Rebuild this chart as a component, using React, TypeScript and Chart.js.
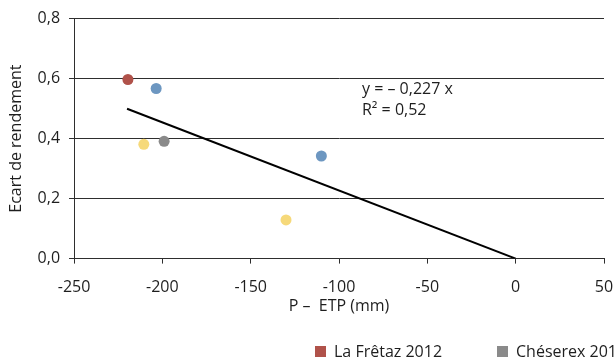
import React, { useEffect, useRef } from "react";
import { Chart, registerables } from "chart.js";

Chart.register(...registerables);

// ---- Data ----
const seriesNames = ["La Frêtaz 2012", "Chéserex 2012", "Série 3", "Série 4"];
const seriesColors = ["#B0524A", "#8A8A8A", "#6D97C1", "#F6D97A"];
const redX = [-219.5];
const redY = [0.597];
const grayX = [-199];
const grayY = [0.391];
const blueX = [-203.5, -110];
const blueY = [0.567, 0.342];
const yellowX = [-210.5, -130];
const yellowY = [0.381, 0.129];
const trendX = [-220, 0];
const trendY = [0.4994, 0];
const annotationLines = ["y = – 0,227 x", "R² = 0,52"];
const annotationX = -87;
const annotationY = [0.564, 0.495];
const xTicks = [-250, -200, -150, -100, -50, 0, 50];
const xTickLabels = ["-250", "-200", "-150", "-100", "-50", "0", "50"];
const yTicks = [0, 0.2, 0.4, 0.6, 0.8];
const yTickLabels = ["0,0", "0,2", "0,4", "0,6", "0,8"];
const xTitle = "P –  ETP (mm)";
const yTitle = "Ecart de rendement";
const legendCount = 2;

const FONT = "'Open Sans', 'Noto Sans', sans-serif";
const TEXT = "#1e1e1e";
const GRID = "#2e2e2e";

const toPts = (xs: number[], ys: number[]) => xs.map((x, i) => ({ x, y: ys[i] }));

const annotationPlugin = {
  id: "eqText",
  afterDatasetsDraw(chart: any) {
    const { ctx, scales } = chart;
    ctx.save();
    ctx.font = `16px ${FONT}`;
    ctx.fillStyle = TEXT;
    ctx.textAlign = "left";
    ctx.textBaseline = "middle";
    annotationLines.forEach((t, i) => {
      ctx.fillText(t, scales.x.getPixelForValue(annotationX), scales.y.getPixelForValue(annotationY[i]));
    });
    ctx.restore();
  },
};

export default function App() {
  const ref = useRef<HTMLCanvasElement | null>(null);
  useEffect(() => {
    if (!ref.current) return;
    const pointDs = (label: string, color: string, data: any[]) => ({
      type: "scatter" as const,
      label,
      data,
      backgroundColor: color,
      borderColor: color,
      pointRadius: 5.5,
      pointBorderWidth: 0,
      pointHoverRadius: 5.5,
    });
    const chart = new Chart(ref.current, {
      type: "scatter",
      data: {
        datasets: [
          {
            type: "line" as const,
            label: "trend",
            data: toPts(trendX, trendY),
            borderColor: "#000",
            borderWidth: 2,
            pointRadius: 0,
            fill: false,
            order: 0,
          } as any,
          pointDs(seriesNames[0], seriesColors[0], toPts(redX, redY)),
          pointDs(seriesNames[1], seriesColors[1], toPts(grayX, grayY)),
          pointDs(seriesNames[2], seriesColors[2], toPts(blueX, blueY)),
          pointDs(seriesNames[3], seriesColors[3], toPts(yellowX, yellowY)),
        ],
      },
      options: {
        animation: false,
        responsive: false,
        layout: { padding: { left: 0, top: 17, right: 36, bottom: 45 } },
        plugins: { legend: { display: false }, tooltip: { enabled: false } },
        scales: {
          x: {
            type: "linear",
            min: -250,
            max: 50,
            afterBuildTicks: (s: any) => {
              s.ticks = xTicks.map((v) => ({ value: v }));
            },
            ticks: {
              callback: (v: any) => xTickLabels[xTicks.indexOf(Number(v))] ?? "",
              font: { family: FONT, size: 16 },
              color: TEXT,
              padding: 14,
              maxRotation: 0,
            },
            grid: { drawOnChartArea: false, drawTicks: true, tickLength: 5, color: GRID, tickColor: GRID },
            border: { display: true, color: GRID, width: 1 },
            title: {
              display: true,
              text: xTitle,
              font: { family: FONT, size: 16 },
              color: TEXT,
              padding: { top: -14, bottom: 0 },
            },
          },
          y: {
            type: "linear",
            min: 0,
            max: 0.8,
            afterBuildTicks: (s: any) => {
              s.ticks = yTicks.map((v) => ({ value: v }));
            },
            ticks: {
              callback: (v: any) => {
                const i = yTicks.findIndex((t) => Math.abs(t - Number(v)) < 1e-6);
                return i >= 0 ? yTickLabels[i] : "";
              },
              font: { family: FONT, size: 16 },
              color: TEXT,
              padding: 9,
            },
            grid: { drawOnChartArea: true, drawTicks: true, tickLength: 5, color: GRID, tickColor: GRID },
            border: { display: true, color: GRID, width: 1 },
            title: {
              display: true,
              text: yTitle,
              font: { family: FONT, size: 16 },
              color: TEXT,
              padding: { top: 6.4, bottom: 3 },
            },
          },
        },
      },
      plugins: [annotationPlugin],
    } as any);
    return () => chart.destroy();
  }, []);

  return (
    <div style={{ position: "absolute", left: 0, top: 0, width: 615, height: 361, overflow: "hidden", background: "#fff" }}>
      <canvas ref={ref} width={640} height={361} style={{ display: "block" }} />
      <div style={{ position: "absolute", left: 315, top: 341, display: "flex", whiteSpace: "nowrap", fontFamily: FONT, fontSize: 16, lineHeight: "20px", color: TEXT }}>
        {seriesNames.slice(0, legendCount).map((n, i) => (
          <div key={n} style={{ width: 182, display: "flex", alignItems: "flex-start", flexShrink: 0 }}>
            <span style={{ display: "inline-block", width: 11, height: 11, marginTop: 5, marginRight: 8, background: seriesColors[i] }} />
            <span>{n}</span>
          </div>
        ))}
      </div>
    </div>
  );
}
